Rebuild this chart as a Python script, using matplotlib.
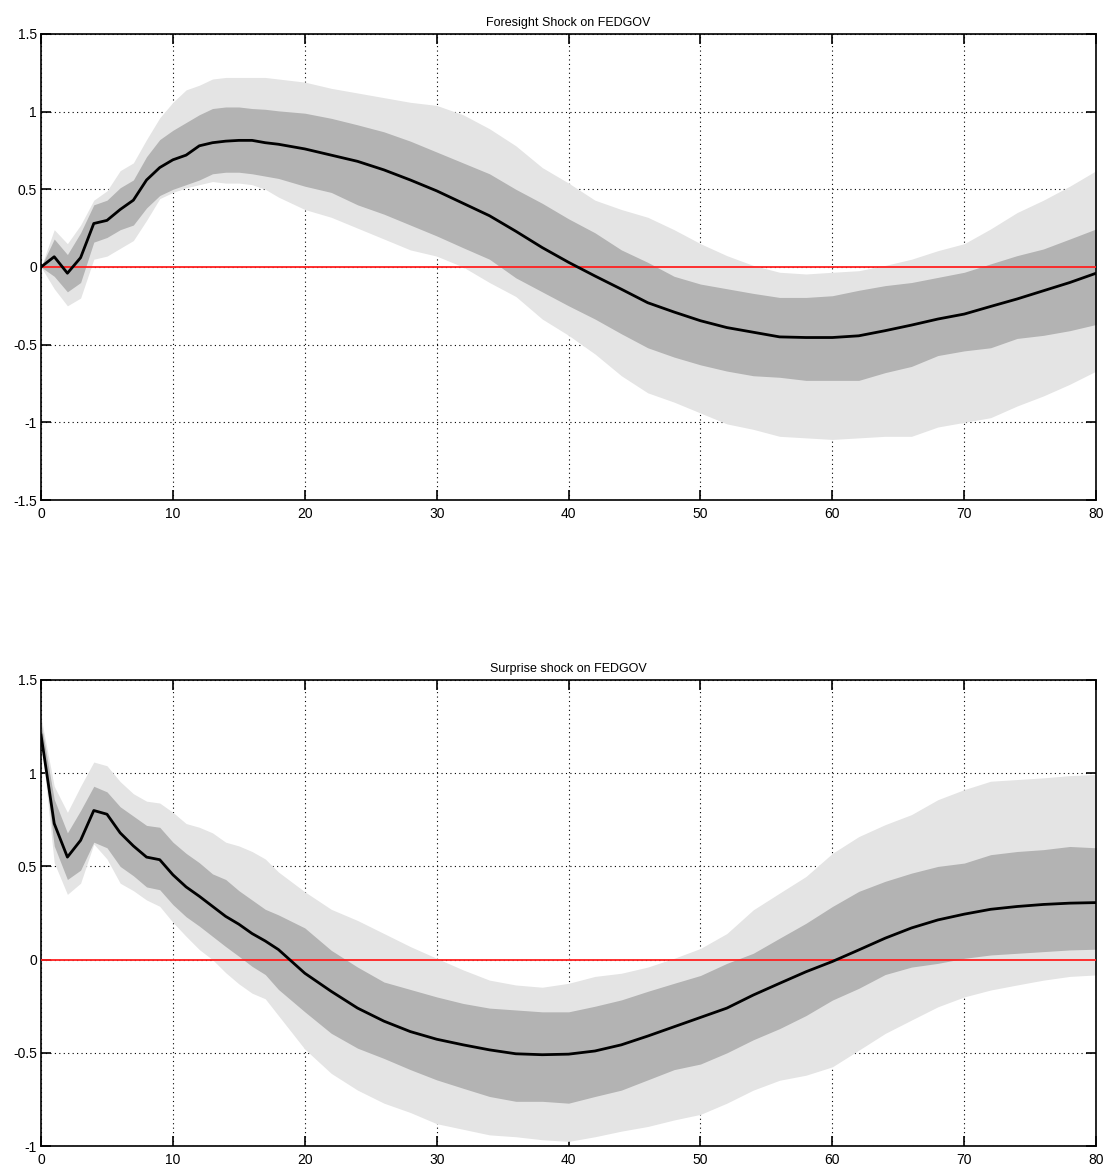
import matplotlib.pyplot as plt

plt.rcParams['font.family'] = ['Liberation Sans Narrow', 'Liberation Sans', 'DejaVu Sans']

# horizons (quarters)
horizon = list(range(0, 19)) + list(range(20, 81, 2))

# Foresight shock on FEDGOV
foresight_median = [0, 0.066, -0.04, 0.06, 0.28, 0.30, 0.37, 0.43, 0.56, 0.64, 0.69, 0.72, 0.78, 0.80, 0.81,
                    0.815, 0.815, 0.80, 0.79,
                    0.76, 0.72, 0.68, 0.625, 0.56, 0.49, 0.41, 0.33, 0.23, 0.125, 0.03, -0.058, -0.143, -0.23,
                    -0.29, -0.346, -0.39, -0.42, -0.45, -0.454, -0.454, -0.443, -0.41, -0.374, -0.335, -0.303,
                    -0.254, -0.206, -0.153, -0.10, -0.04]
foresight_inner_hi = [0, 0.18, 0.08, 0.22, 0.40, 0.43, 0.51, 0.56, 0.71, 0.82, 0.88, 0.93, 0.98, 1.02, 1.03,
                      1.03, 1.02, 1.015, 1.005,
                      0.99, 0.957, 0.915, 0.87, 0.81, 0.74, 0.67, 0.60, 0.50, 0.41, 0.31, 0.22, 0.11, 0.03,
                      -0.06, -0.11, -0.14, -0.17, -0.196, -0.196, -0.185, -0.15, -0.12, -0.10, -0.067, -0.034,
                      0.02, 0.073, 0.116, 0.18, 0.245]
foresight_inner_lo = [0, -0.06, -0.16, -0.10, 0.16, 0.19, 0.24, 0.27, 0.38, 0.46, 0.50, 0.53, 0.56, 0.60, 0.61,
                      0.61, 0.60, 0.585, 0.57,
                      0.52, 0.48, 0.40, 0.34, 0.27, 0.20, 0.124, 0.05, -0.07, -0.16, -0.25, -0.335, -0.43, -0.52,
                      -0.58, -0.63, -0.67, -0.70, -0.71, -0.73, -0.73, -0.73, -0.68, -0.64, -0.57, -0.54,
                      -0.52, -0.46, -0.44, -0.41, -0.37]
foresight_outer_hi = [0, 0.24, 0.15, 0.27, 0.43, 0.49, 0.62, 0.67, 0.82, 0.96, 1.06, 1.14, 1.17, 1.21, 1.22,
                      1.22, 1.22, 1.22, 1.21,
                      1.19, 1.15, 1.12, 1.09, 1.06, 1.04, 0.98, 0.89, 0.78, 0.64, 0.54, 0.43, 0.37, 0.32,
                      0.24, 0.15, 0.073, 0.01, -0.034, -0.045, -0.034, -0.024, 0.01, 0.05, 0.105, 0.15,
                      0.245, 0.35, 0.43, 0.52, 0.62]
foresight_outer_lo = [0, -0.14, -0.25, -0.20, 0.05, 0.07, 0.12, 0.17, 0.30, 0.44, 0.48, 0.51, 0.53, 0.55, 0.54,
                      0.54, 0.53, 0.50, 0.45,
                      0.37, 0.32, 0.25, 0.18, 0.11, 0.07, 0.0, -0.10, -0.19, -0.335, -0.44, -0.56, -0.70, -0.81,
                      -0.87, -0.94, -1.01, -1.045, -1.09, -1.10, -1.11, -1.10, -1.09, -1.09, -1.03, -1.0,
                      -0.97, -0.895, -0.83, -0.755, -0.67]

# Surprise shock on FEDGOV
surprise_median = [1.205, 0.73, 0.55, 0.64, 0.80, 0.78, 0.68, 0.61, 0.55, 0.536, 0.455, 0.39, 0.34, 0.286, 0.232,
                   0.19, 0.14, 0.10, 0.054,
                   -0.073, -0.17, -0.26, -0.33, -0.386, -0.427, -0.457, -0.484, -0.505, -0.51, -0.507, -0.49,
                   -0.457, -0.41, -0.36, -0.31, -0.26, -0.19, -0.127, -0.065, -0.01, 0.052, 0.115, 0.17, 0.213,
                   0.244, 0.27, 0.285, 0.296, 0.303, 0.306]
surprise_inner_hi = [1.27, 0.86, 0.68, 0.80, 0.93, 0.90, 0.82, 0.77, 0.72, 0.71, 0.63, 0.57, 0.52, 0.46, 0.43,
                     0.37, 0.32, 0.27, 0.24,
                     0.17, 0.05, -0.04, -0.12, -0.16, -0.20, -0.235, -0.26, -0.27, -0.28, -0.28, -0.25,
                     -0.216, -0.17, -0.127, -0.085, -0.02, 0.034, 0.115, 0.195, 0.285, 0.366, 0.42, 0.464, 0.50,
                     0.518, 0.563, 0.58, 0.59, 0.607, 0.60]
surprise_inner_lo = [1.2, 0.61, 0.43, 0.48, 0.63, 0.60, 0.50, 0.45, 0.39, 0.375, 0.295, 0.23, 0.18, 0.125, 0.07,
                     0.018, -0.036, -0.08, -0.16,
                     -0.28, -0.395, -0.475, -0.53, -0.59, -0.645, -0.69, -0.734, -0.76, -0.76, -0.77, -0.734,
                     -0.70, -0.645, -0.59, -0.56, -0.50, -0.43, -0.37, -0.30, -0.217, -0.154, -0.08, -0.04, -0.02,
                     0.007, 0.025, 0.034, 0.043, 0.052, 0.056]
surprise_outer_hi = [1.30, 0.93, 0.79, 0.93, 1.06, 1.04, 0.955, 0.89, 0.85, 0.84, 0.79, 0.73, 0.71, 0.68, 0.63,
                     0.61, 0.58, 0.54, 0.47,
                     0.364, 0.27, 0.21, 0.14, 0.07, 0.007, -0.055, -0.11, -0.136, -0.148, -0.127, -0.09,
                     -0.073, -0.04, 0.007, 0.06, 0.14, 0.267, 0.357, 0.446, 0.57, 0.66, 0.724, 0.778, 0.858,
                     0.912, 0.957, 0.966, 0.975, 0.987, 0.993]
surprise_outer_lo = [1.19, 0.52, 0.35, 0.41, 0.62, 0.54, 0.41, 0.37, 0.32, 0.286, 0.20, 0.125, 0.054, 0.0, -0.07,
                     -0.13, -0.18, -0.21, -0.30,
                     -0.48, -0.61, -0.70, -0.77, -0.82, -0.88, -0.91, -0.94, -0.95, -0.966, -0.975, -0.95,
                     -0.92, -0.895, -0.86, -0.83, -0.77, -0.70, -0.647, -0.62, -0.575, -0.486, -0.396, -0.324,
                     -0.253, -0.20, -0.163, -0.136, -0.11, -0.09, -0.082]


def plot_irf(ax, title, median, inner_lo, inner_hi, outer_lo, outer_hi, ylim):
    """
    Impulse response with two credible bands
    """
    ax.fill_between(horizon, outer_lo, outer_hi, color='#e4e4e4', linewidth=0, zorder=1)
    ax.fill_between(horizon, inner_lo, inner_hi, color='#b3b3b3', linewidth=0, zorder=2)
    ax.axhline(0, color='#ff2020', linewidth=1.3, zorder=3)
    ax.plot(horizon, median, color='black', linewidth=2, zorder=4)
    ax.set_xlim(0, 80)
    ax.set_ylim(*ylim)
    ax.set_xticks(range(0, 81, 10))
    ax.set_title(title, fontsize=9, pad=6)
    ax.grid(True, color='black', linestyle=(0, (1, 3)), linewidth=0.8)
    ax.set_axisbelow(True)
    ax.tick_params(direction='in', length=7, width=1.2, top=True, right=True, labelsize=10, pad=3)
    ax.tick_params(axis='x', pad=5)
    for spine in ax.spines.values():
        spine.set_linewidth(1.2)


fig = plt.figure(figsize=(11.06, 11.71), dpi=100)
ax1 = fig.add_axes([0.0371, 0.573, 0.954, 0.398])
ax2 = fig.add_axes([0.0371, 0.0213, 0.954, 0.398])

plot_irf(ax1, "Foresight Shock on FEDGOV", foresight_median, foresight_inner_lo, foresight_inner_hi,
         foresight_outer_lo, foresight_outer_hi, (-1.5, 1.5))
ax1.set_yticks([-1.5, -1, -0.5, 0, 0.5, 1, 1.5])
ax1.set_yticklabels(['-1.5', '-1', '-0.5', '0', '0.5', '1', '1.5'])

plot_irf(ax2, "Surprise shock on FEDGOV", surprise_median, surprise_inner_lo, surprise_inner_hi,
         surprise_outer_lo, surprise_outer_hi, (-1, 1.5))
ax2.set_yticks([-1, -0.5, 0, 0.5, 1, 1.5])
ax2.set_yticklabels(['-1', '-0.5', '0', '0.5', '1', '1.5'])

plt.savefig('out.png', dpi=100)
